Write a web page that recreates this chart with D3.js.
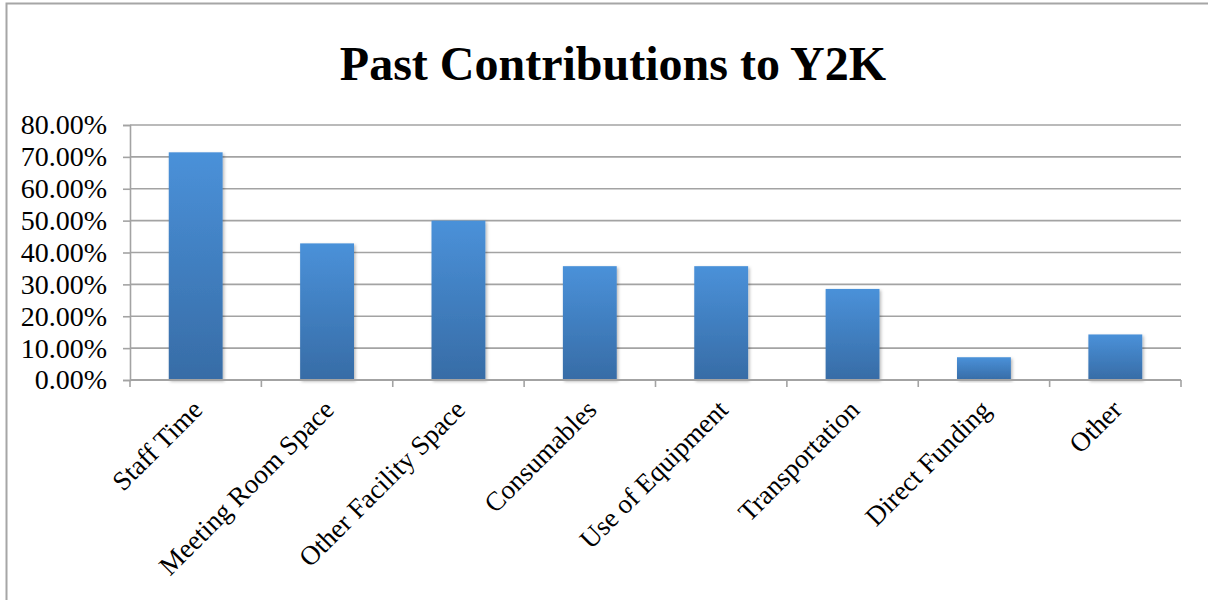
<!DOCTYPE html>
<html>
<head>
<meta charset="utf-8">
<script src="https://cdn.jsdelivr.net/npm/d3@7"></script>
<style>
  html, body { margin: 0; padding: 0; background: #fff; }
  svg { display: block; }
</style>
</head>
<body>
<svg id="chart" width="1208" height="600"></svg>
<script>
// Share of respondents reporting each kind of past contribution
const categories = [
  "Staff Time", "Meeting Room Space", "Other Facility Space", "Consumables",
  "Use of Equipment", "Transportation", "Direct Funding", "Other"
];
const values = [0.7143, 0.4286, 0.5, 0.3571, 0.3571, 0.2857, 0.0714, 0.1429];
const yTicks = [0, 0.1, 0.2, 0.3, 0.4, 0.5, 0.6, 0.7, 0.8];
const titleText = "Past Contributions to Y2K";

const svg = d3.select("#chart");
const font = "'Liberation Serif', 'Times New Roman', serif";

const plot = { left: 130, right: 1181, top: 125, bottom: 380 };

// outer chart frame (right edge runs off the page)
svg.append("rect")
  .attr("x", 6.5).attr("y", 3.5)
  .attr("width", 1240).attr("height", 640)
  .attr("fill", "#fff")
  .attr("stroke", "#a6a6a6").attr("stroke-width", 2);

const defs = svg.append("defs");
const grad = defs.append("linearGradient")
  .attr("id", "barFill").attr("x1", 0).attr("y1", 0).attr("x2", 0).attr("y2", 1);
grad.append("stop").attr("offset", "0%").attr("stop-color", "#4a91d9");
grad.append("stop").attr("offset", "100%").attr("stop-color", "#376ca6");

const shadow = defs.append("filter").attr("id", "barShadow")
  .attr("x", "-20%").attr("y", "-10%").attr("width", "140%").attr("height", "120%");
shadow.append("feDropShadow")
  .attr("dx", 1.5).attr("dy", 1.5).attr("stdDeviation", 1.8)
  .attr("flood-color", "#000").attr("flood-opacity", 0.28);

const x = d3.scaleBand()
  .domain(categories)
  .range([plot.left, plot.right])
  .paddingInner(0.59).paddingOuter(0.295);

const y = d3.scaleLinear().domain([0, 0.8]).range([plot.bottom, plot.top]);

// horizontal gridlines
svg.append("g")
  .selectAll("line")
  .data(yTicks.filter(d => d > 0))
  .join("line")
  .attr("x1", plot.left).attr("x2", plot.right)
  .attr("y1", d => y(d)).attr("y2", d => y(d))
  .attr("stroke", "#a3a3a3").attr("stroke-width", 1.6);

// y axis
const yAxis = svg.append("g")
  .attr("transform", `translate(${plot.left},0)`)
  .call(d3.axisLeft(y).tickValues(yTicks).tickFormat(d3.format(".2%")).tickSize(7).tickPadding(16));
yAxis.select(".domain").attr("stroke", "#a3a3a3").attr("stroke-width", 1.6);
yAxis.selectAll(".tick line").attr("stroke", "#a3a3a3").attr("stroke-width", 1.6);
yAxis.selectAll("text")
  .attr("fill", "#000").attr("font-family", font).attr("font-size", 28);

// bars
svg.append("g")
  .selectAll("rect")
  .data(values)
  .join("rect")
  .attr("x", (d, i) => x(categories[i]))
  .attr("y", d => y(d))
  .attr("width", x.bandwidth())
  .attr("height", d => y(0) - y(d))
  .attr("fill", "url(#barFill)")
  .attr("filter", "url(#barShadow)");

// x axis with category boundary ticks
const xAxisG = svg.append("g").attr("transform", `translate(0,${plot.bottom})`);
xAxisG.append("line")
  .attr("x1", plot.left).attr("x2", plot.right)
  .attr("stroke", "#a3a3a3").attr("stroke-width", 1.8);
const step = x.step();
xAxisG.selectAll("line.tick")
  .data(d3.range(categories.length + 1))
  .join("line")
  .attr("class", "tick")
  .attr("x1", i => plot.left + i * step).attr("x2", i => plot.left + i * step)
  .attr("y1", 0).attr("y2", 7)
  .attr("stroke", "#a3a3a3").attr("stroke-width", 1.6);

xAxisG.selectAll("text")
  .data(categories)
  .join("text")
  .attr("transform", d => `translate(${x(d) + x.bandwidth() / 2 + 4},${27}) rotate(-45)`)
  .attr("text-anchor", "end")
  .attr("dominant-baseline", "middle")
  .attr("font-family", font)
  .attr("font-size", 27)
  .attr("fill", "#000")
  .text(d => d);

// title
svg.append("text")
  .attr("x", 613).attr("y", 80)
  .attr("text-anchor", "middle")
  .attr("font-family", font)
  .attr("font-weight", "bold")
  .attr("font-size", 48)
  .attr("fill", "#000")
  .text(titleText);
</script>
</body>
</html>
